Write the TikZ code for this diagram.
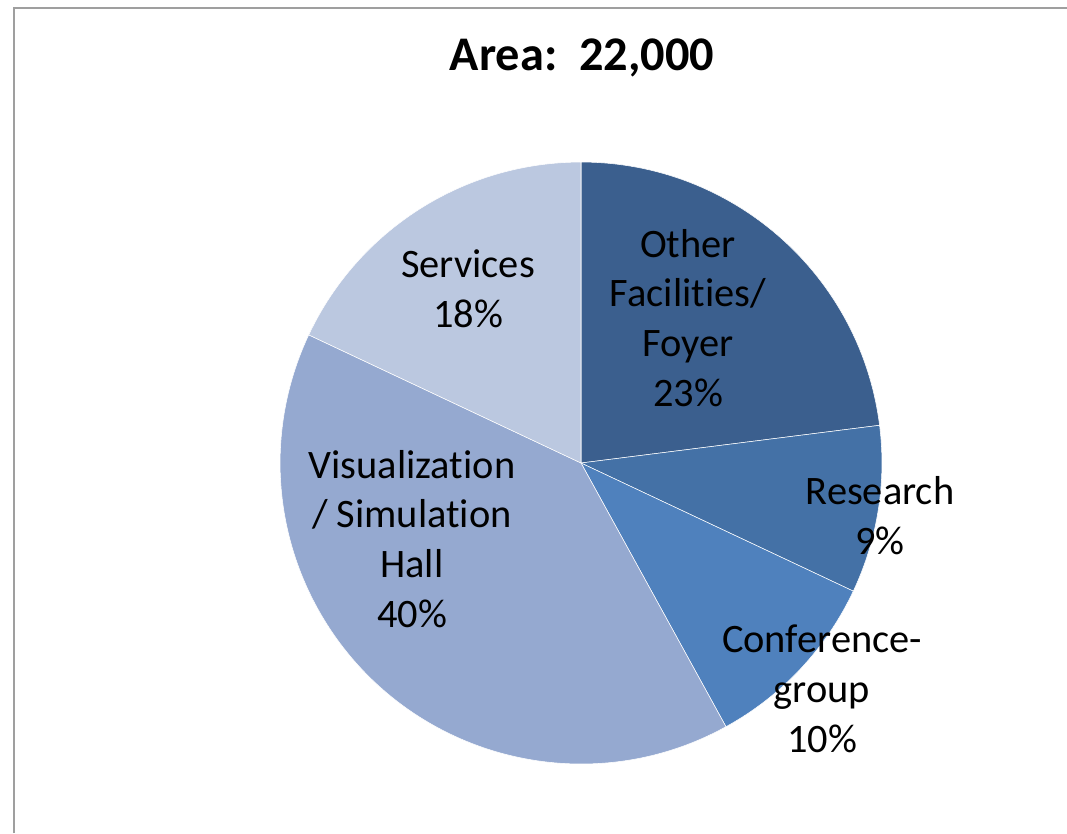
\documentclass[tikz,border=0pt]{standalone}
\usepackage{fontspec}
\setmainfont{Carlito}[Ligatures=NoCommon]
\usepackage{tikz}
\usetikzlibrary{positioning,calc}

\definecolor{otherblue}{HTML}{3B5F8E}
\definecolor{researchblue}{HTML}{4471A6}
\definecolor{confblue}{HTML}{4F81BD}
\definecolor{visblue}{HTML}{95A9D0}
\definecolor{servblue}{HTML}{BBC8E0}

\tikzset{
  slice/.style={draw=white,line width=0.3pt},
  lbl/.style={align=center,font=\fontsize{23}{28.4}\selectfont,inner sep=0pt},
}

\begin{document}
\begin{tikzpicture}[x=0.02cm,y=0.02cm]
\useasboundingbox (0,0) rectangle (1067,833);
\draw[gray!75,line width=1.1pt] (14,0) -- (14,825) -- (1067,825);
\coordinate (c) at (581,370);
% slices, clockwise from the top
\fill[slice,fill=otherblue] (c) -- ++(90:6.02cm) arc[start angle=90,end angle=7.2,radius=6.02cm] -- cycle;
\fill[slice,fill=researchblue] (c) -- ++(7.2:6.02cm) arc[start angle=7.2,end angle=-25.2,radius=6.02cm] -- cycle;
\fill[slice,fill=confblue] (c) -- ++(-25.2:6.02cm) arc[start angle=-25.2,end angle=-61.2,radius=6.02cm] -- cycle;
\fill[slice,fill=visblue] (c) -- ++(-61.2:6.02cm) arc[start angle=-61.2,end angle=-205.2,radius=6.02cm] -- cycle;
\fill[slice,fill=servblue] (c) -- ++(-205.2:6.02cm) arc[start angle=-205.2,end angle=-270,radius=6.02cm] -- cycle;
% labels
\node (title) at (582,775) {\fontsize{27.5}{33}\selectfont\bfseries Area:\ \ 22,000};
\node[lbl] (other) at (688,515) {Other\\Facilities/\\Foyer\\23\%};
\node[lbl] (research) at (880,317) {Research\\9\%};
\node[lbl] (conf) at (822,144) {Conference-\\group\\10\%};
\node[lbl] (vis) at (412,294) {Visualization\\/ Simulation\\Hall\\40\%};
\node[lbl] (serv) at (468,544) {Services\\18\%};
\end{tikzpicture}
\end{document}
